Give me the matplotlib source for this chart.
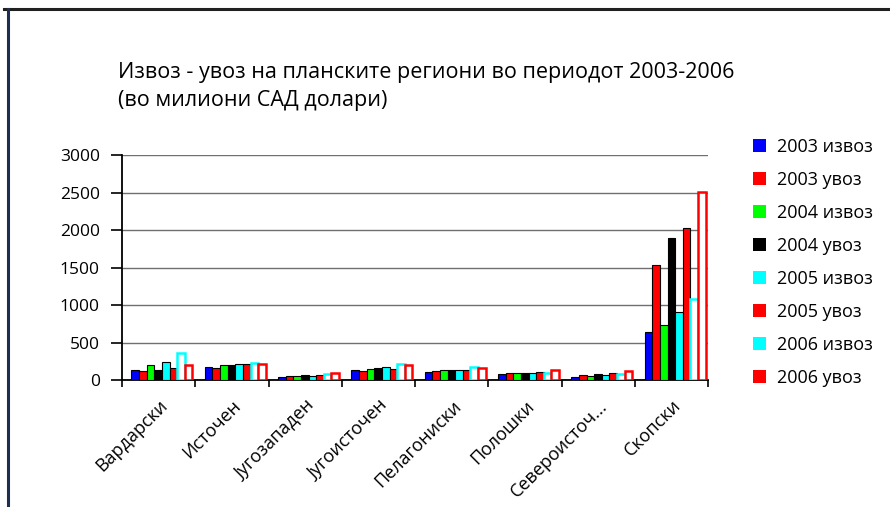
import numpy as np
import matplotlib.pyplot as plt
from matplotlib.lines import Line2D
from matplotlib.patches import Patch

plt.rcParams["font.family"] = ["Open Sans", "DejaVu Sans"]

REGIONS = [
    "Вардарски",
    "Источен",
    "Југозападен",
    "Југоисточен",
    "Пелагониски",
    "Полошки",
    "Североисточ...",
    "Скопски",
]
SERIES = [
    "2003 извоз",
    "2003 увоз",
    "2004 извоз",
    "2004 увоз",
    "2005 извоз",
    "2005 увоз",
    "2006 извоз",
    "2006 увоз",
]
# values per series, one per region (million USD)
export_2003 = [140, 170, 45, 135, 110, 80, 45, 645]
import_2003 = [115, 155, 50, 125, 120, 90, 65, 1530]
export_2004 = [195, 205, 50, 150, 130, 100, 55, 740]
import_2004 = [140, 205, 60, 165, 140, 100, 85, 1890]
export_2005 = [240, 210, 50, 180, 140, 100, 60, 910]
import_2005 = [165, 215, 70, 145, 130, 105, 95, 2030]
export_2006 = [360, 225, 80, 220, 170, 100, 75, 1080]
import_2006 = [200, 210, 90, 200, 165, 130, 115, 2510]

SERIES_VALUES = [
    export_2003, import_2003, export_2004, import_2004,
    export_2005, import_2005, export_2006, import_2006,
]
SERIES_COLORS = ["#0000FF", "#FF0000", "#00FF00", "#000000",
                 "#00FFFF", "#FF0000", "#00FFFF", "#FF0000"]

fig = plt.figure(figsize=(8.9, 5.07), dpi=100)
ax = fig.add_axes([0.137, 0.2505, 0.659, 0.4435])

x = np.arange(len(REGIONS))
width = 0.104
start = 0.13
for i, (vals, col) in enumerate(zip(SERIES_VALUES, SERIES_COLORS)):
    pos = x + start + i * width
    if i >= 6:
        # 2006 bars: hollow look with coloured outline
        ax.bar(pos, vals, width=width, align="edge", color="white",
               edgecolor=col, linewidth=1.8, zorder=3)
    else:
        ax.bar(pos, vals, width=width, align="edge", color=col,
               edgecolor="black", linewidth=0.8, zorder=3)

ax.set_xlim(0, len(REGIONS))
ax.set_ylim(0, 3000)
ax.set_yticks(np.arange(0, 3001, 500))
ax.set_xticks(np.arange(len(REGIONS) + 1))
ax.set_xticklabels([])
ax.set_xticks(x + 0.5, minor=True)
ax.set_xticklabels(REGIONS, minor=True, rotation=45, ha="right",
                   rotation_mode="anchor", fontsize=13)
ax.tick_params(axis="x", which="minor", length=0, pad=12)
ax.tick_params(axis="x", which="major", length=5, width=1.2, direction="out")
ax.tick_params(axis="y", length=8, width=1.2, labelsize=12.5, pad=8)

ax.grid(axis="y", color="#707070", linewidth=1.0, zorder=0)
ax.spines["top"].set_visible(False)
ax.spines["right"].set_visible(False)
ax.spines["left"].set_linewidth(1.3)
ax.spines["bottom"].set_linewidth(1.3)

fig.text(0.133, 0.857, "Извоз - увоз на планските региони во периодот 2003-2006",
         fontsize=15.5, va="center")
fig.text(0.133, 0.802, "(во милиони САД долари)", fontsize=15.5, va="center")

handles = [Patch(facecolor=c, edgecolor="none") for c in SERIES_COLORS]
fig.legend(handles, SERIES, loc="upper left", bbox_to_anchor=(0.838, 0.742),
           frameon=False, fontsize=13, handlelength=0.7, handleheight=0.7,
           handletextpad=0.6, labelspacing=0.83, borderaxespad=0)

# outer frame lines
fig.add_artist(Line2D([0.005, 1.0], [0.982, 0.982], color="#202020", linewidth=2.2))
fig.add_artist(Line2D([0.009, 0.009], [0.0, 0.982], color="#1F2D50", linewidth=2.2))

fig.savefig("out.png", dpi=100)
